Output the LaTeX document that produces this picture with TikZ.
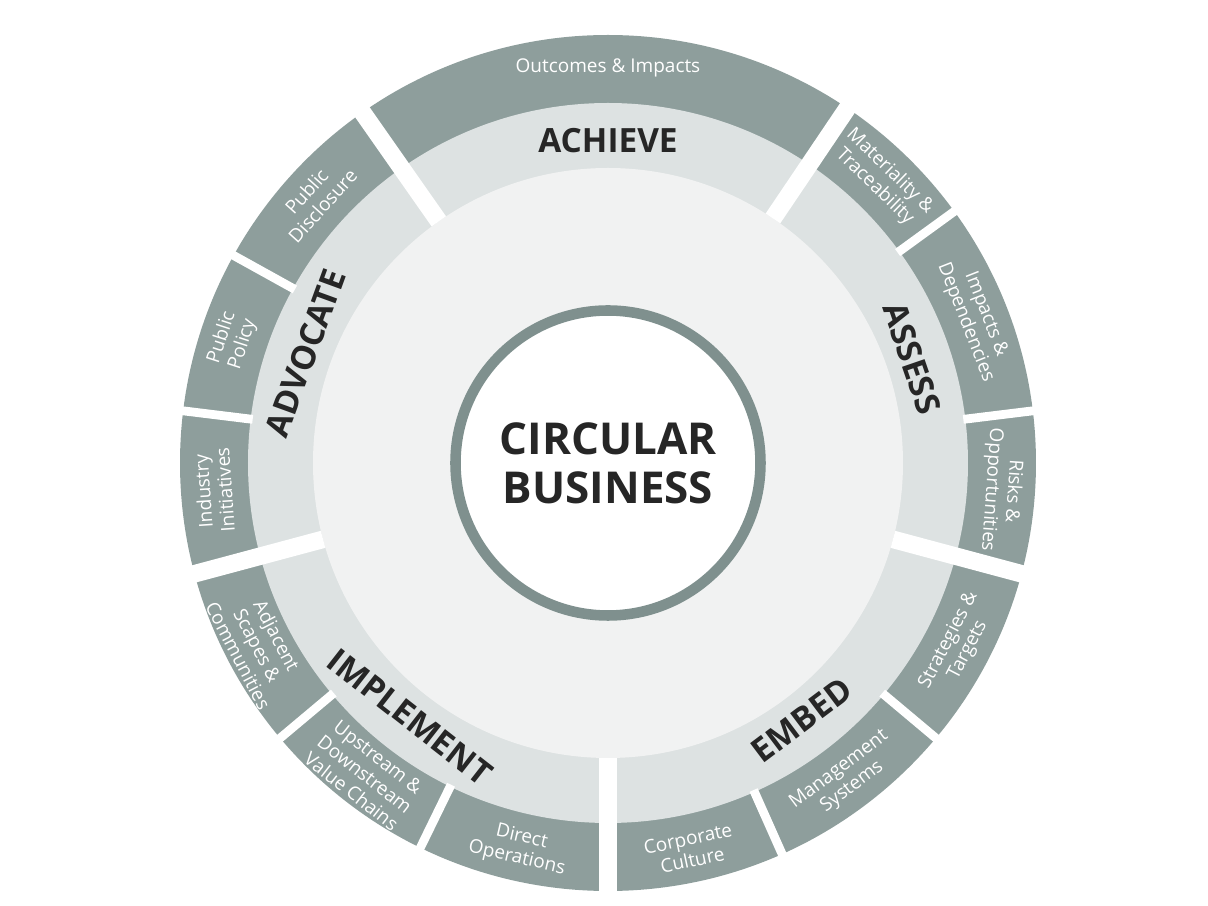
\documentclass[tikz,border=0pt]{standalone}
\usepackage{fontspec}
\setmainfont{Open Sans}
\usetikzlibrary{calc}
\definecolor{outerring}{HTML}{8E9E9C}
\definecolor{midring}{HTML}{DDE2E2}
\definecolor{innerzone}{HTML}{F1F2F2}
\definecolor{hubline}{HTML}{7F908E}
\begin{document}
\begin{tikzpicture}[x=1cm,y=1cm,
  outerlbl/.style={font=\fontsize{5.4}{6.2}\selectfont, text=white, align=center, inner sep=0pt},
  stagelbl/.style={font=\bfseries\fontsize{9.5}{10}\selectfont, text=black!85},
  gap/.style={white, line width=2.5pt},
  biggap/.style={white, line width=5pt}]
\useasboundingbox (0,0) rectangle (12.08,9.06);
\coordinate (C) at (6.08,4.43);
% rings
\fill[outerring] (C) circle (4.28);
\fill[midring] (C) circle (3.6);
\fill[innerzone] (C) circle (2.95);
% gaps between outer segments
\foreach \a in {36,7,-40,-66,244,220,151,173}
  \draw[gap] ($(C)+(\a:3.58)$) -- ($(C)+(\a:4.35)$);
% gaps between stages
\foreach \a in {56,125,-15,-90,195}
  \draw[biggap] ($(C)+(\a:2.95)$) -- ($(C)+(\a:4.35)$);
% hub
\node[circle, draw=hubline, line width=3pt, fill=white, minimum size=3.05cm] (hub) at (C) {};
\node[font=\bfseries\fontsize{12.5}{14}\selectfont, text=black!85, align=center] (hubtext) at (C) {CIRCULAR\\BUSINESS};
% stage labels
\foreach \a/\r/\t/\n in {90/0/ACHIEVE/achieve, 19/-71/ASSESS/assess, -53/37/EMBED/embed,
    232/-38/IMPLEMENT/implement, 160/70/ADVOCATE/advocate}
  \node[stagelbl, rotate=\r] (\n) at ($(C)+(\a:3.22)$) {\t};
% outer labels
\foreach \a/\r/\t/\n in {
    90/0/{Outcomes \& Impacts}/outcomes,
    46/-44/{Materiality \&\\Traceability}/materiality,
    21.5/-68.5/{Impacts \&\\Dependencies}/impacts,
    -4/-94/{Risks \&\\Opportunities}/risks,
    -27.5/62.5/{Strategies \&\\Targets}/strategies,
    -53/37/{Management\\Systems}/management,
    -78/12/{Corporate\\Culture}/culture,
    257/-13/{Direct\\Operations}/operations,
    232/-38/{Upstream \&\\Downstream\\Value Chains}/chains,
    207.5/-62.5/{Adjacent\\Scapes \&\\Communities}/adjacent,
    184/94/{Industry\\Initiatives}/industry,
    162/72/{Public\\Policy}/policy,
    138/48/{Public\\Disclosure}/disclosure}
  \node[outerlbl, rotate=\r] (\n) at ($(C)+(\a:3.95)$) {\t};
\end{tikzpicture}
\end{document}
